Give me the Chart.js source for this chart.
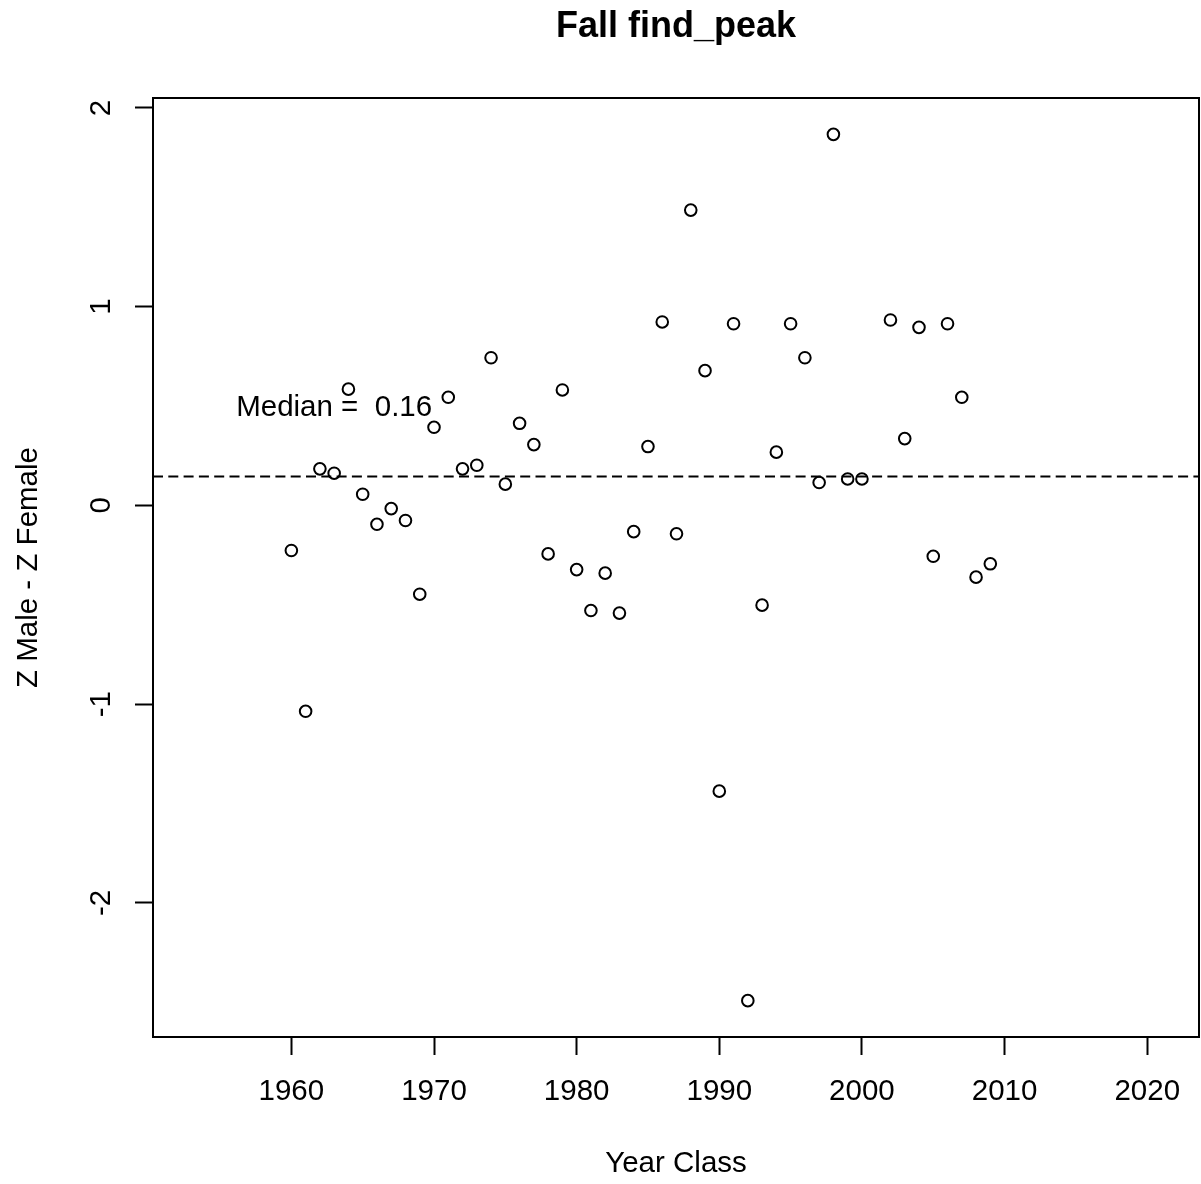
<!DOCTYPE html>
<html>
<head>
<meta charset="utf-8">
<script src="https://cdn.jsdelivr.net/npm/chart.js@4.4.0/dist/chart.umd.min.js"></script>
<style>
html,body{margin:0;padding:0;background:#ffffff;}
#wrap{width:1201px;height:1184px;position:relative;}
canvas{display:block;}
</style>
</head>
<body>
<div id="wrap"><canvas id="c" width="1201" height="1184"></canvas></div>
<script>
// ---- data ----
const YEARS = [1960,1961,1962,1963,1964,1965,1966,1967,1968,1969,
               1970,1971,1972,1973,1974,1975,1976,1977,1978,1979,
               1980,1981,1982,1983,1984,1985,1986,1987,1988,1989,
               1990,1991,1992,1993,1994,1995,1996,1997,1998,1999,
               2000,2002,2003,2004,2005,2006,2007,2008,2009];
const Z_DIFF = [-0.227,-1.036,0.184,0.162,0.585,0.056,-0.095,-0.016,-0.076,-0.447,
                0.393,0.544,0.184,0.202,0.743,0.107,0.413,0.306,-0.244,0.581,
                -0.323,-0.529,-0.341,-0.542,-0.132,0.296,0.923,-0.143,1.486,0.678,
                -1.438,0.914,-2.492,-0.502,0.268,0.914,0.743,0.115,1.867,0.133,
                0.133,0.933,0.336,0.896,-0.256,0.914,0.544,-0.361,-0.294];
const X_TICKS = [1960,1970,1980,1990,2000,2010,2020];
const Y_TICKS = [-2,-1,0,1,2];
const MEDIAN_LINE = 0.145;
const MEDIAN_LABEL = 'Median =  0.16';
const MEDIAN_LABEL_POS = [1963, 0.49];
const TITLE = 'Fall find_peak';
const X_TITLE = 'Year Class';
const Y_TITLE = 'Z Male - Z Female';

const FONT = '"Liberation Sans", Arial, sans-serif';
const FS = 29.5;
const INK = '#000000';

const points = YEARS.map((yr, i) => ({x: yr, y: Z_DIFF[i]}));

const decor = {
  id: 'decor',
  beforeDatasetsDraw(chart) {
    const {ctx, chartArea, scales} = chart;
    const y = scales.y.getPixelForValue(MEDIAN_LINE);
    ctx.save();
    ctx.strokeStyle = INK;
    ctx.lineWidth = 2;
    ctx.setLineDash([10, 5.3]);
    ctx.beginPath();
    ctx.moveTo(chartArea.left, y);
    ctx.lineTo(chartArea.right, y);
    ctx.stroke();
    ctx.restore();
  },
  afterDatasetsDraw(chart) {
    const {ctx, chartArea, scales} = chart;
    ctx.save();
    ctx.strokeStyle = INK;
    ctx.lineWidth = 2;
    ctx.strokeRect(chartArea.left, chartArea.top, chartArea.right - chartArea.left, chartArea.bottom - chartArea.top);
    ctx.fillStyle = INK;
    ctx.font = FS + 'px ' + FONT;
    ctx.textAlign = 'center';
    ctx.textBaseline = 'middle';
    ctx.fillText(MEDIAN_LABEL, scales.x.getPixelForValue(MEDIAN_LABEL_POS[0]), scales.y.getPixelForValue(MEDIAN_LABEL_POS[1]));
    ctx.restore();
  }
};

new Chart(document.getElementById('c'), {
  type: 'scatter',
  data: {
    datasets: [{
      data: points,
      pointStyle: 'circle',
      pointRadius: 5.8,
      pointHoverRadius: 5.8,
      pointBorderWidth: 2,
      borderColor: INK,
      backgroundColor: 'rgba(0,0,0,0)',
      showLine: false
    }]
  },
  options: {
    responsive: false,
    animation: false,
    devicePixelRatio: 1,
    layout: {autoPadding: false, padding: {left: 0, right: 2, top: 0, bottom: 0}},
    plugins: {
      legend: {display: false},
      tooltip: {enabled: false},
      title: {
        display: true,
        fullSize: false,
        text: TITLE,
        color: INK,
        font: {family: FONT, size: 36, weight: 'bold', lineHeight: 1.2},
        padding: {top: 5, bottom: 49.8}
      }
    },
    scales: {
      x: {
        type: 'linear',
        min: 1950.3,
        max: 2023.63,
        afterBuildTicks: s => { s.ticks = X_TICKS.map(v => ({value: v})); },
        afterFit: s => { s.height = 147; s.paddingLeft = 0; s.paddingRight = 0; },
        grid: {drawOnChartArea: false, drawTicks: true, tickLength: 18, tickWidth: 2, tickColor: INK},
        border: {display: false},
        ticks: {
          color: INK,
          font: {family: FONT, size: FS},
          padding: 19,
          maxRotation: 0,
          minRotation: 0,
          autoSkip: false,
          callback: v => String(v)
        },
        title: {
          display: true,
          text: X_TITLE,
          color: INK,
          font: {family: FONT, size: FS, lineHeight: 1.2},
          padding: {top: 0, bottom: 2}
        }
      },
      y: {
        type: 'linear',
        min: -2.675,
        max: 2.05,
        afterBuildTicks: s => { s.ticks = Y_TICKS.map(v => ({value: v})); },
        afterFit: s => { s.width = 153; s.paddingTop = 0; s.paddingBottom = 0; },
        grid: {drawOnChartArea: false, drawTicks: true, tickLength: 18, tickWidth: 2, tickColor: INK},
        border: {display: false},
        ticks: {
          color: INK,
          font: {family: FONT, size: FS},
          padding: 20,
          minRotation: 90,
          maxRotation: 90,
          crossAlign: 'center',
          autoSkip: false,
          callback: v => String(v)
        },
        title: {
          display: true,
          text: Y_TITLE,
          color: INK,
          font: {family: FONT, size: FS, lineHeight: 1.2},
          padding: {top: 11, bottom: 0}
        }
      }
    }
  },
  plugins: [decor]
});
</script>
</body>
</html>
